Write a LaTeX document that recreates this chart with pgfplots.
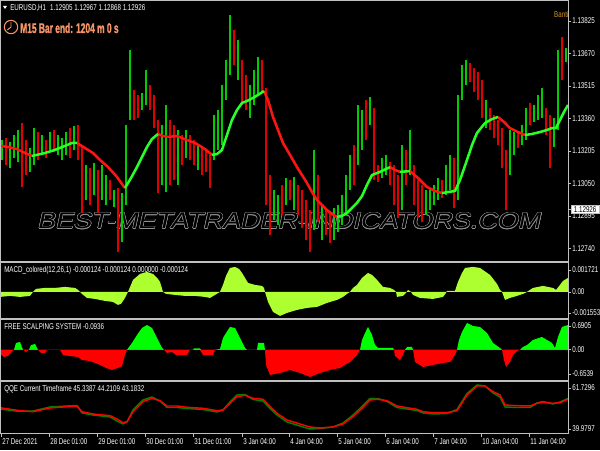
\documentclass[border=0pt]{standalone}
\usepackage{fontspec}
\setmainfont{Liberation Sans}
\newfontfamily\mt[FakeStretch=0.74]{Liberation Sans}
\newfontfamily\mtb[FakeStretch=0.6,FakeBold=1.2]{Liberation Sans Bold}
\newfontfamily\wmf[FakeStretch=1.19,FakeSlant=0.22]{Liberation Sans}
\usepackage{pgfplots}
\pgfplotsset{compat=1.18}
\newcommand\mtsmall{\mt\fontsize{6.3pt}{7pt}\selectfont}
\newcommand\wmtext{\wmf\fontsize{17pt}{18pt}\selectfont BEST-METATRADER-INDICATORS.COM}
\definecolor{cgreen}{RGB}{0,205,0}
\definecolor{cred}{RGB}{225,0,0}
\definecolor{magreen}{RGB}{40,255,40}
\definecolor{mared}{RGB}{255,20,20}
\definecolor{macdc}{RGB}{173,255,47}
\definecolor{fgreen}{RGB}{0,255,0}
\definecolor{fred}{RGB}{255,0,0}
\definecolor{qgreen}{RGB}{0,128,0}
\definecolor{qred}{RGB}{255,0,0}
\definecolor{sep}{RGB}{192,192,192}
\definecolor{salm}{RGB}{245,150,105}
\definecolor{bant}{RGB}{218,150,30}
\definecolor{wm}{RGB}{145,145,145}
\pgfplotsset{
  mt/.style={
    scale only axis, width=426pt,
    xmin=0, xmax=284,
    axis line style={draw=none},
    tick style={draw=sep, line width=0.6pt},
    major tick length=2.25pt,
    tick align=outside,
    xtick pos=bottom, ytick pos=right,
    yticklabel pos=right,
    xtick=\empty,
    scaled y ticks=false,
    yticklabel style={font=\mtsmall, text=white, anchor=west, inner sep=0.8pt},
    unbounded coords=jump,
  }
}
\begin{document}
\begin{tikzpicture}
\useasboundingbox (0,0) rectangle (450pt,337.5pt);
\fill[black] (0,0) rectangle (450pt,337.5pt);

% watermark (outlined), behind the candles
\foreach \a in {0,30,...,330}{
  \node[text=wm, inner sep=0pt, xshift={0.4pt*cos(\a)}, yshift={0.4pt*sin(\a)}] at (216.5pt,171.9pt) {\wmtext};
}
\node[text=black, inner sep=0pt] at (216.5pt,171.9pt) {\wmtext};

% ---------------- main price chart ----------------
\begin{axis}[mt, at={(0pt,141.75pt)}, anchor=south west, height=195.75pt,
  ymin=1.12680, ymax=1.13925,
  ytick={1.13825,1.13670,1.13515,1.13360,1.13205,1.13050,1.12895,1.12740},
  yticklabels={1.13825,1.13670,1.13515,1.13360,1.13205,1.13050,1.12895,1.12740},
  extra y ticks={1.12926}, extra y tick labels={1.12926},
  extra y tick style={yticklabel style={fill=white, text=black, inner xsep=2pt, inner ysep=1pt, draw=sep}},
]
% green candles (low-high)
\addplot[draw=cgreen, line width=1.15pt] coordinates {
(1,1.13162)(1,1.13257)(1,nan)(5,1.13124)(5,1.13248)(5,nan)(7,1.13171)(7,1.13281)(7,nan)
(9,1.13152)(9,1.13305)(9,nan)(15,1.13105)(15,1.13219)(15,nan)(17,1.13138)(17,1.13314)(17,nan)
(21,1.13186)(21,1.13281)(21,nan)(25,1.13210)(25,1.13295)(25,nan)(29,1.13186)(29,1.13281)(29,nan)
(31,1.13162)(31,1.13267)(31,nan)(33,1.13186)(33,1.13295)(33,nan)(37,1.13210)(37,1.13324)(37,nan)
(43,1.12971)(43,1.13138)(43,nan)(47,1.12995)(47,1.13148)(47,nan)(51,1.12971)(51,1.13138)(51,nan)
(53,1.12947)(53,1.13090)(53,nan)(57,1.12938)(57,1.13019)(57,nan)(61,1.12771)(61,1.13004)(61,nan)
(63,1.12947)(63,1.13329)(63,nan)(65,1.13353)(65,1.13687)(65,nan)(71,1.13400)(71,1.13481)(71,nan)
(73,1.13424)(73,1.13591)(73,nan)(81,1.13043)(81,1.13329)(81,nan)(83,1.13009)(83,1.13424)(83,nan)
(89,1.13043)(89,1.13305)(89,nan)(93,1.13171)(93,1.13305)(93,nan)(99,1.13114)(99,1.13233)(99,nan)
(107,1.13162)(107,1.13376)(107,nan)(109,1.13210)(109,1.13400)(109,nan)(111,1.13233)(111,1.13520)(111,nan)
(113,1.13448)(113,1.13639)(113,nan)(115,1.13567)(115,1.13853)(115,nan)(119,1.13543)(119,1.13734)(119,nan)
(125,1.13362)(125,1.13520)(125,nan)(127,1.13424)(127,1.13591)(127,nan)(129,1.13472)(129,1.13653)(129,nan)
(137,1.12876)(137,1.13019)(137,nan)(139,1.12852)(139,1.12995)(139,nan)(143,1.12947)(143,1.13076)(143,nan)
(147,1.12923)(147,1.13081)(147,nan)(157,1.12828)(157,1.13210)(157,nan)(161,1.12780)(161,1.12947)(161,nan)
(167,1.12780)(167,1.12933)(167,nan)(169,1.12818)(169,1.12947)(169,nan)(171,1.12852)(171,1.12995)(171,nan)
(173,1.12899)(173,1.13090)(173,nan)(175,1.13019)(175,1.13186)(175,nan)(179,1.13138)(179,1.13424)(179,nan)
(181,1.13210)(181,1.13400)(181,nan)(185,1.13329)(185,1.13462)(185,nan)(191,1.13076)(191,1.13171)(191,nan)
(193,1.13090)(193,1.13186)(193,nan)(201,1.12923)(201,1.13233)(201,nan)(205,1.13090)(205,1.13305)(205,nan)
(213,1.12899)(213,1.13019)(213,nan)(215,1.12923)(215,1.13028)(215,nan)(217,1.12947)(217,1.13043)(217,nan)
(219,1.12971)(219,1.13076)(219,nan)(223,1.12995)(223,1.13138)(223,nan)(225,1.13019)(225,1.13186)(225,nan)
(229,1.12971)(229,1.13472)(229,nan)(231,1.13448)(231,1.13615)(231,nan)(233,1.13520)(233,1.13639)(233,nan)
(243,1.13314)(243,1.13448)(243,nan)(255,1.13090)(255,1.13305)(255,nan)(257,1.13186)(257,1.13295)(257,nan)
(261,1.13233)(261,1.13329)(261,nan)(263,1.13257)(263,1.13410)(263,nan)(267,1.13343)(267,1.13424)(267,nan)
(269,1.13353)(269,1.13472)(269,nan)(271,1.13362)(271,1.13505)(271,nan)(277,1.13224)(277,1.13362)(277,nan)
(279,1.13305)(279,1.13687)(279,nan)(283,1.13629)(283,1.13696)
};
% red candles (low-high)
\addplot[draw=cred, line width=1.15pt] coordinates {
(3,1.13138)(3,1.13267)(3,nan)(11,1.13033)(11,1.13338)(11,nan)(13,1.13090)(13,1.13257)(13,nan)
(19,1.13162)(19,1.13295)(19,nan)(23,1.13171)(23,1.13257)(23,nan)(27,1.13200)(27,1.13305)(27,nan)
(35,1.13171)(35,1.13314)(35,nan)(39,1.13162)(39,1.13329)(39,nan)(41,1.12909)(41,1.13233)(41,nan)
(45,1.12947)(45,1.13124)(45,nan)(49,1.12909)(49,1.13114)(49,nan)(55,1.12971)(55,1.13066)(55,nan)
(59,1.12723)(59,1.13028)(59,nan)(67,1.13353)(67,1.13496)(67,nan)(69,1.13362)(69,1.13472)(69,nan)
(75,1.13400)(75,1.13520)(75,nan)(77,1.13314)(77,1.13472)(77,nan)(79,1.13004)(79,1.13353)(79,nan)
(85,1.13043)(85,1.13353)(85,nan)(87,1.13066)(87,1.13329)(87,nan)(91,1.13138)(91,1.13281)(91,nan)
(95,1.13162)(95,1.13281)(95,nan)(97,1.13138)(97,1.13257)(97,nan)(101,1.13090)(101,1.13219)(101,nan)
(103,1.13105)(103,1.13210)(103,nan)(105,1.13028)(105,1.13186)(105,nan)(117,1.13615)(117,1.13782)(117,nan)
(121,1.13424)(121,1.13639)(121,nan)(123,1.13400)(123,1.13567)(123,nan)(131,1.13486)(131,1.13639)(131,nan)
(133,1.12947)(133,1.13505)(133,nan)(135,1.12804)(135,1.13090)(135,nan)(141,1.12899)(141,1.13043)(141,nan)
(145,1.12971)(145,1.13066)(145,nan)(149,1.12899)(149,1.13043)(149,nan)(151,1.12837)(151,1.13019)(151,nan)
(153,1.12780)(153,1.12971)(153,nan)(155,1.12723)(155,1.12923)(155,nan)(159,1.12866)(159,1.13090)(159,nan)
(163,1.12804)(163,1.12923)(163,nan)(165,1.12766)(165,1.12914)(165,nan)(177,1.13043)(177,1.13233)(177,nan)
(183,1.13257)(183,1.13448)(183,nan)(187,1.13066)(187,1.13410)(187,nan)(189,1.13057)(189,1.13138)(189,nan)
(195,1.13043)(195,1.13152)(195,nan)(197,1.12947)(197,1.13138)(197,nan)(199,1.12885)(199,1.13090)(199,nan)
(203,1.13043)(203,1.13210)(203,nan)(207,1.12947)(207,1.13138)(207,nan)(209,1.12885)(209,1.13066)(209,nan)
(211,1.12866)(211,1.13043)(211,nan)(221,1.12981)(221,1.13066)(221,nan)(227,1.12933)(227,1.13171)(227,nan)
(235,1.13534)(235,1.13624)(235,nan)(237,1.13486)(237,1.13601)(237,nan)(239,1.13448)(239,1.13582)(239,nan)
(241,1.13362)(241,1.13543)(241,nan)(245,1.13305)(245,1.13410)(245,nan)(247,1.13267)(247,1.13376)(247,nan)
(249,1.13233)(249,1.13353)(249,nan)(251,1.13124)(251,1.13314)(251,nan)(253,1.12923)(253,1.13210)(253,nan)
(259,1.13219)(259,1.13291)(259,nan)(265,1.13329)(265,1.13434)(265,nan)(273,1.13281)(273,1.13410)(273,nan)
(275,1.13124)(275,1.13376)(275,nan)(281,1.13543)(281,1.13749)
};
% moving average, falling parts red
\addplot[draw=mared, line width=1.9pt, line join=round] coordinates {
(0,1.13229)(4,1.13224)(8.5,1.13214)(12.5,1.13195)(16,1.13181)(16,nan)
(38.5,1.13243)(42.5,1.13219)(46.5,1.13195)(50,1.13162)(54,1.13128)(58.5,1.13081)(61,1.13047)(62.5,1.13028)(62.5,nan)
(79,1.13286)(81.5,1.13276)(84,1.13272)(88.5,1.13276)(93.5,1.13257)(97.5,1.13243)(100,1.13229)(103,1.13210)(106,1.13186)(106,nan)
(132,1.13491)(134,1.13448)(136.5,1.13367)(139,1.13305)(141.5,1.13243)(145,1.13186)(148.5,1.13128)(151,1.13090)(153.5,1.13052)(156,1.13009)(158.5,1.12971)(161,1.12947)(163.5,1.12923)(166,1.12904)(168.5,1.12890)(168.5,nan)
(195,1.13128)(197.5,1.13114)(200,1.13105)(200,nan)
(205,1.13109)(209,1.13076)(213.5,1.13033)(217.5,1.13014)(221,1.13004)(221,nan)
(249,1.13367)(252,1.13343)(255,1.13314)(259,1.13295)(262.5,1.13281)
};
% moving average, rising parts green
\addplot[draw=magreen, line width=1.9pt, line join=round] coordinates {
(16,1.13181)(22.5,1.13195)(27.5,1.13210)(32.5,1.13229)(36,1.13243)(38.5,1.13243)(38.5,nan)
(62.5,1.13028)(65.5,1.13076)(68.5,1.13128)(71,1.13176)(73.5,1.13224)(76,1.13262)(79,1.13286)(79,nan)
(106,1.13186)(108.5,1.13190)(111,1.13210)(113.5,1.13281)(116,1.13353)(118.5,1.13400)(121,1.13434)(123.5,1.13443)(126.5,1.13458)(129,1.13472)(132,1.13491)(132,nan)
(168.5,1.12890)(171,1.12895)(173.5,1.12909)(176,1.12933)(178.5,1.12957)(181,1.12990)(183.5,1.13043)(186,1.13090)(190,1.13105)(195,1.13128)(195,nan)
(200,1.13105)(205,1.13109)(205,nan)
(221,1.13004)(224,1.13009)(227.5,1.13014)(230,1.13066)(233.5,1.13162)(236,1.13233)(238.5,1.13291)(242.5,1.13338)(246,1.13357)(249,1.13367)(249,nan)
(262.5,1.13281)(266,1.13286)(270,1.13295)(273.5,1.13305)(276,1.13314)(278,1.13314)(280,1.13353)(282,1.13391)(284,1.13424)
};
\end{axis}

% ---------------- MACD ----------------
\begin{axis}[mt, at={(0pt,99pt)}, anchor=south west, height=41.25pt,
  ymin=-0.001553, ymax=0.001721,
  ytick={-0.00125,0,0.0013}, yticklabels={-0.001553,0.00,0.001721}]
\addplot[fill=macdc, draw=none] coordinates {
(0,0)(0,-0.000298)(5,-0.000238)(10,-0.000298)(15,-0.000238)(16.5,0)(18,0.000179)(22.5,0.000238)(27.5,0.000238)(32.5,0.000298)(37.5,0.000238)(39,0.000119)(41,-0.000119)(43.5,-0.000357)(47.5,-0.000417)(52.5,-0.000536)(56.5,-0.000595)(59,-0.000774)(60.5,-0.000714)(62.5,-0.000357)(64,0)(66.5,0.000714)(70,0.001071)(73.5,0.00119)(76.5,0.001071)(79,0.000774)(80,0.000595)(81.5,0)(83,-0.000119)(87.5,-0.000179)(92.5,-0.000238)(97.5,-0.000238)(102.5,-0.000298)(105,-0.000357)(107.5,-0.000179)(110,0)(111.5,0.000417)(113,0.000952)(115,0.001428)(117.5,0.001488)(119.5,0.001369)(121,0.001131)(122.5,0.000833)(124,0.000536)(127.5,0.000417)(131,0.000357)(132,0.000238)(132.5,0)(134,-0.000595)(136.5,-0.00119)(140,-0.001428)(143.5,-0.00125)(148.5,-0.001071)(153.5,-0.000952)(158.5,-0.000893)(163.5,-0.000655)(168.5,-0.000476)(171.5,-0.000298)(173.5,-0.000119)(175,0)(176.5,0.000238)(178.5,0.000417)(181,0.000833)(184,0.001131)(186,0.001012)(188.5,0.000714)(191.5,0.000298)(195,0.000238)(197,0.000119)(198,0)(198.5,-0.000298)(201.5,-0.000238)(203,-0.00006)(204,0.000119)(205.5,0)(206.5,-0.000179)(210,-0.000357)(216.5,-0.000417)(221.5,-0.000298)(223,-0.00006)(223.5,0.00006)(227.5,0.00006)(229,0.000595)(231,0.001131)(232.5,0.001428)(236.5,0.001488)(240,0.001428)(245,0.001012)(248.5,0.000476)(250,0.000119)(251,0)(252.5,-0.000476)(255,-0.000357)(258.5,-0.000238)(261.5,-0.000119)(263.5,0)(266.5,0.000238)(271.5,0.000357)(276.5,0.000238)(278,0.000119)(280,0.000417)(281.5,0.000655)(284,0.000833)(284,0)
};
\end{axis}

% ---------------- Free scalping system ----------------
\begin{axis}[mt, at={(0pt,54pt)}, anchor=south west, height=43.5pt,
  ymin=-0.6539, ymax=0.6905,
  ytick={-0.5612,0,0.5514}, yticklabels={-0.6539,0.00,0.6905}]
\addplot[fill=fgreen, draw=none] coordinates {
(0,0)(7,0)(8,0.158)(10,0.181)(11.5,0)(14.5,0)(15.5,0.111)(17.5,0.134)(19,0)(63.5,0)(66,0.158)(68.5,0.343)(71,0.505)(73.5,0.575)(76,0.505)(78.5,0.274)(81,0.042)(82,0)(96.5,0)(97,0.03)(100,0.03)(100.5,0)(107.5,0)(110,0.019)(111.5,0.274)(113,0.389)(115,0.529)(117.5,0.505)(120,0.274)(122.5,0.042)(123.5,0)(128.5,0)(129,0.158)(132,0.158)(132.5,0)(180,0)(181,0.227)(182.5,0.389)(184,0.529)(186,0.343)(187.5,0.111)(189,0.042)(196.5,0.042)(197,0)(202.5,0)(203.5,0.065)(206,0.065)(206.5,0)(228.5,0)(229.5,0.227)(231,0.413)(233.5,0.621)(236.5,0.552)(240,0.529)(243.5,0.389)(246.5,0.158)(250,0.042)(251,0)(260,0)(261.5,0.065)(263.5,0.111)(266.5,0.227)(271,0.297)(273.5,0.227)(276,0.158)(277.5,0.042)(279,0.297)(281,0.529)(284,0.575)(284,0)
};
\addplot[fill=fred, draw=none] coordinates {
(0,0)(0,-0.097)(2,-0.167)(4,-0.144)(6,-0.03)(7,0)(11.5,0)(13,-0.051)(14.5,0)(19,0)(20.5,-0.074)(22.5,-0.074)(23.5,0)(30,0)(31.5,-0.121)(35,-0.144)(39,-0.167)(41,-0.236)(45,-0.260)(47.5,-0.306)(50,-0.352)(53,-0.422)(56,-0.468)(59,-0.422)(61,-0.376)(62.5,-0.121)(63.5,0)(82,0)(83.5,-0.074)(86,-0.051)(88,-0.121)(93.5,-0.121)(95,0)(100,0)(101.5,-0.121)(106.5,-0.121)(107.5,0)(132.5,0)(133,-0.352)(135,-0.584)(140,-0.538)(145,-0.468)(150,-0.538)(155,-0.630)(160,-0.538)(165,-0.468)(170,-0.422)(175,-0.283)(178.5,-0.121)(180,0)(197,0)(197.5,-0.144)(200,-0.236)(201.5,-0.121)(202.5,0)(206.5,0)(207.5,-0.283)(211.5,-0.399)(216.5,-0.352)(221.5,-0.306)(225,-0.283)(227.5,-0.121)(228.5,0)(251,0)(252,-0.236)(253,-0.399)(255,-0.283)(256.5,-0.121)(258.5,-0.03)(260,0)(284,0)
};
\end{axis}

% ---------------- QQE ----------------
\begin{axis}[mt, at={(0pt,12pt)}, anchor=south west, height=39.75pt,
  ymin=39.9797, ymax=61.7296,
  ytick={42.03,58.86}, yticklabels={39.9797,61.7296},
  xtick={0.5,24.5,48.5,72.5,96.5,121,144.5,168.5,192.5,216.5,240.5,264.5},
  xticklabels={27 Dec 2021,28 Dec 01:00,29 Dec 01:00,30 Dec 01:00,31 Dec 01:00,3 Jan 04:00,4 Jan 04:00,5 Jan 04:00,6 Jan 04:00,7 Jan 04:00,10 Jan 04:00,11 Jan 04:00},
  xticklabel style={font=\mtsmall, text=white, anchor=north west, inner sep=0.8pt}]
\addplot[draw=qgreen, line width=1.1pt, line join=round] coordinates {
(0,50.24)(10,49.21)(16.5,49.42)(25,51.06)(33.5,51.47)(38.5,51.67)(41,48.60)(46.5,47.78)(55,46.96)(58.5,45.31)(61.5,44.08)(63.5,44.90)(66.5,49.83)(71.5,53.93)(76,55.16)(80,53.52)(83.5,50.85)(88.5,50.85)(93.5,50.44)(101.5,50.03)(108.5,49.01)(111.5,49.83)(115,53.11)(118.5,55.98)(122.5,56.19)(126.5,54.14)(131.5,53.52)(135,50.44)(138.5,47.78)(143.5,44.90)(150,43.26)(155,42.03)(160,42.24)(166.5,42.85)(171.5,44.49)(176.5,47.78)(181,51.26)(185,54.55)(189,54.55)(193.5,53.32)(198.5,50.85)(203.5,50.24)(208.5,49.62)(211.5,48.60)(216.5,48.19)(223.5,48.39)(228.5,50.03)(233.5,56.60)(238.5,60.09)(242.5,59.68)(246.5,56.80)(250,55.16)(252.5,51.06)(258.5,50.85)(265,50.85)(268.5,52.70)(271.5,53.32)(276.5,52.29)(280,53.11)(284,54.55)
};
\addplot[draw=qred, line width=1.1pt, line join=round] coordinates {
(0,50.77)(10,49.54)(16.5,49.13)(25,50.65)(33.5,51.18)(38.5,51.47)(41,49.13)(46.5,48.19)(55,47.49)(58.5,46.13)(61.5,44.62)(63.5,45.03)(66.5,49.13)(71.5,53.23)(76,54.63)(80,53.64)(83.5,51.47)(88.5,51.47)(93.5,50.94)(101.5,50.53)(108.5,49.54)(111.5,49.83)(115,52.58)(118.5,55.29)(122.5,55.86)(126.5,54.63)(131.5,54.22)(135,51.18)(138.5,48.47)(143.5,45.72)(150,44.08)(155,42.85)(160,42.44)(166.5,42.85)(171.5,44.08)(176.5,47.08)(181,50.53)(185,53.93)(189,54.22)(193.5,53.64)(198.5,51.47)(203.5,50.77)(208.5,50.12)(211.5,49.13)(216.5,48.72)(223.5,48.72)(228.5,49.54)(233.5,55.98)(238.5,59.68)(242.5,59.68)(246.5,57.34)(250,55.98)(252.5,51.88)(258.5,51.59)(265,51.47)(268.5,52.58)(271.5,52.99)(276.5,52.58)(280,52.82)(284,54.22)
};
\end{axis}

% frame and separators
\draw[sep, line width=1.5pt] (0,141pt) -- (426pt,141pt);
\draw[sep, line width=1.5pt] (0,98.6pt) -- (426pt,98.6pt);
\draw[sep, line width=1.5pt] (0,52.1pt) -- (426pt,52.1pt);
\draw[sep, line width=0.75pt] (0,12pt) -- (426pt,12pt);
\draw[sep, line width=0.75pt] (426pt,12pt) -- (426pt,337.5pt);
\draw[sep, line width=0.75pt] (0,337.1pt) -- (426pt,337.1pt);
\draw[sep, line width=0.75pt] (0.4pt,12pt) -- (0.4pt,337.5pt);

% texts
\fill[white] (2.25pt,333pt) -- (5.25pt,333pt) -- (3.75pt,330.75pt) -- cycle;
\node[anchor=west, text=white, inner sep=0pt, font=\mtsmall] at (7.5pt,331.5pt)
  {EURUSD,H1\hspace{3pt}1.12905 1.12967 1.12868 1.12926};
\draw[salm, line width=0.8pt] (8.25pt,317.25pt) circle (5pt);
\draw[salm, line width=0.7pt] (8.25pt,321pt) -- (8.25pt,317.25pt) -- (5.5pt,315pt);
\node[anchor=west, text=salm, inner sep=0pt, font={\mtb\fontsize{10.5pt}{12pt}\selectfont}] at (15pt,316.5pt)
  {M15 Bar end: 1204 m 0 s};
\node[anchor=east, text=bant, inner sep=0pt, font=\mtsmall] at (426.5pt,326.5pt) {Banti};
\node[anchor=west, text=white, inner sep=0pt, font=\mtsmall] at (3pt,135pt)
  {MACD\_colored(12,26,1) -0.000124 -0.000124 0.000000 -0.000124};
\node[anchor=west, text=white, inner sep=0pt, font=\mtsmall] at (3pt,92.25pt)
  {FREE SCALPING SYSTEM -0.0936};
\node[anchor=west, text=white, inner sep=0pt, font=\mtsmall] at (3pt,45.75pt)
  {QQE Current Timeframe 45.3387 44.2109 43.1832};
\end{tikzpicture}
\end{document}
